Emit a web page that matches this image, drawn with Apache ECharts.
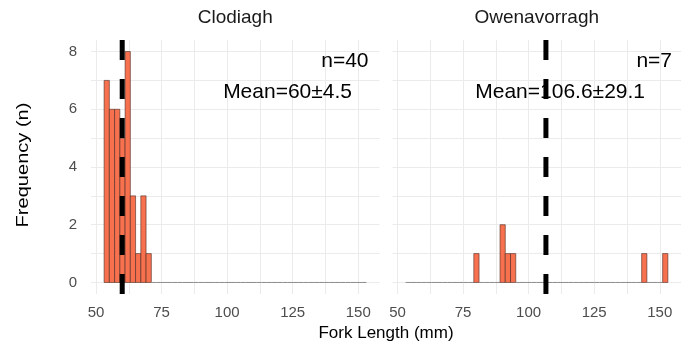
<!DOCTYPE html>
<html>
<head>
<meta charset="utf-8">
<script src="https://cdn.jsdelivr.net/npm/echarts@6/dist/echarts.min.js"></script>
<style>
  html, body { margin: 0; padding: 0; background: #ffffff; }
  #chart { width: 681px; height: 356px; }
</style>
</head>
<body>
<div id="chart"></div>
<script>
// Fork length histograms (2 mm bins) for two rivers
const rivers = ['Clodiagh', 'Owenavorragh'];
const binStart = 53.1;
const binWidth = 2;
const clodiaghCounts = [7, 6, 6, 5, 8, 3, 1, 3, 1, 0,
                        0, 0, 0, 0, 0, 0, 0, 0, 0, 0,
                        0, 0, 0, 0, 0, 0, 0, 0, 0, 0,
                        0, 0, 0, 0, 0, 0, 0, 0, 0, 0,
                        0, 0, 0, 0, 0, 0, 0, 0, 0, 0];
const owenavorraghCounts = [0, 0, 0, 0, 0, 0, 0, 0, 0, 0,
                            0, 0, 0, 1, 0, 0, 0, 0, 2, 1,
                            1, 0, 0, 0, 0, 0, 0, 0, 0, 0,
                            0, 0, 0, 0, 0, 0, 0, 0, 0, 0,
                            0, 0, 0, 0, 0, 1, 0, 0, 0, 1];
const sampleSizes = [40, 7];
const means = [60, 106.6];
const sds = [4.5, 29.1];
const xTicks = [50, 75, 100, 125, 150];
const xGrid = [50, 62.5, 75, 87.5, 100, 112.5, 125, 137.5, 150];
const yTicks = [0, 2, 4, 6, 8];
const yGrid = [0, 1, 2, 3, 4, 5, 6, 7, 8];

const xMin = 48.1, xMax = 158.1;
const yMin = -0.4, yMax = 8.4;

const FONT = "'Liberation Sans', Arial, sans-serif";
const GRID_COLOR = '#ebebeb';

const panels = [
  { left: 91, top: 40, width: 288.5, height: 254 },
  { left: 392.5, top: 40, width: 288.5, height: 254 }
];

function binsFor(counts) {
  return counts.map((n, k) => [binStart + k * binWidth, binStart + (k + 1) * binWidth, n]);
}

function renderBin(params, api) {
  const x0 = api.value(0), x1 = api.value(1), n = api.value(2);
  const base0 = api.coord([x0, 0]);
  const base1 = api.coord([x1, 0]);
  if (n === 0) {
    return {
      type: 'line',
      shape: { x1: base0[0], y1: base0[1], x2: base1[0], y2: base1[1] },
      style: { stroke: '#8c8c8c', lineWidth: 1 }
    };
  }
  const top = api.coord([x1, n]);
  return {
    type: 'rect',
    shape: { x: base0[0], y: top[1], width: top[0] - base0[0], height: base0[1] - top[1] },
    style: { fill: '#F8714F', stroke: '#4a2a22', lineWidth: 0.6 }
  };
}

const grids = panels.map(p => ({ left: p.left, top: p.top, width: p.width, height: p.height, containLabel: false }));

const xAxes = panels.map((p, i) => ({
  type: 'value', gridIndex: i, min: xMin, max: xMax,
  axisLine: { show: false },
  axisTick: { show: false, customValues: xGrid },
  axisLabel: { customValues: xTicks, color: '#4d4d4d', fontSize: 15, fontFamily: FONT, margin: 11 },
  splitLine: { show: true, customValues: xGrid, lineStyle: { color: GRID_COLOR, width: 1 } }
}));

const yAxes = panels.map((p, i) => ({
  type: 'value', gridIndex: i, min: yMin, max: yMax,
  axisLine: { show: false },
  axisTick: { show: false, customValues: yGrid },
  axisLabel: { show: i === 0, customValues: yTicks, color: '#4d4d4d', fontSize: 15, fontFamily: FONT, margin: 14 },
  splitLine: { show: true, customValues: yGrid, lineStyle: { color: GRID_COLOR, width: 1 } }
}));

const countsByRiver = [clodiaghCounts, owenavorraghCounts];
const series = [];
countsByRiver.forEach((counts, i) => {
  series.push({
    type: 'custom', xAxisIndex: i, yAxisIndex: i,
    renderItem: renderBin,
    encode: { x: [0, 1], y: 2 },
    data: binsFor(counts),
    z: 4
  });
  series.push({
    type: 'line', xAxisIndex: i, yAxisIndex: i,
    data: [[means[i], yMin], [means[i], yMax]],
    symbol: 'none', silent: true,
    lineStyle: { color: '#000000', width: 5, type: [20, 19], cap: 'butt' },
    z: 5
  });
});

const textStyle = (text, size, fill, align) => ({
  text, fontSize: size, fontFamily: FONT, fill, align, verticalAlign: 'middle'
});

const graphics = [];
rivers.forEach((name, i) => {
  const p = panels[i];
  graphics.push({ type: 'text', z: 3, x: p.left + p.width / 2, y: 18, style: textStyle(name, 19, '#1a1a1a', 'center') });
});
// Annotations: sample size and mean ± SD (sit above the grid, under the mean line)
const annot = [
  { nX: 368.5, mX: 352 },
  { nX: 672, mX: 645 }
];
annot.forEach((a, i) => {
  graphics.push({ type: 'text', z: 3, x: a.nX, y: 61, style: textStyle('n=' + sampleSizes[i], 21, '#000000', 'right') });
  graphics.push({ type: 'text', z: 3, x: a.mX, y: 92, style: textStyle('Mean=' + means[i] + '\u00b1' + sds[i], 21, '#000000', 'right') });
});
graphics.push({ type: 'text', z: 3, x: 386, y: 333, style: textStyle('Fork Length (mm)', 17, '#000000', 'center') });
graphics.push({ type: 'text', z: 3, x: 23, y: 165, rotation: Math.PI / 2, scaleX: 1.18, style: textStyle('Frequency (n)', 17, '#000000', 'center') });

const chart = echarts.init(document.getElementById('chart'), null, { renderer: 'canvas' });
chart.setOption({
  animation: false,
  backgroundColor: '#ffffff',
  grid: grids,
  xAxis: xAxes,
  yAxis: yAxes,
  series,
  graphic: { elements: graphics, z: 3 }
});
</script>
</body>
</html>
